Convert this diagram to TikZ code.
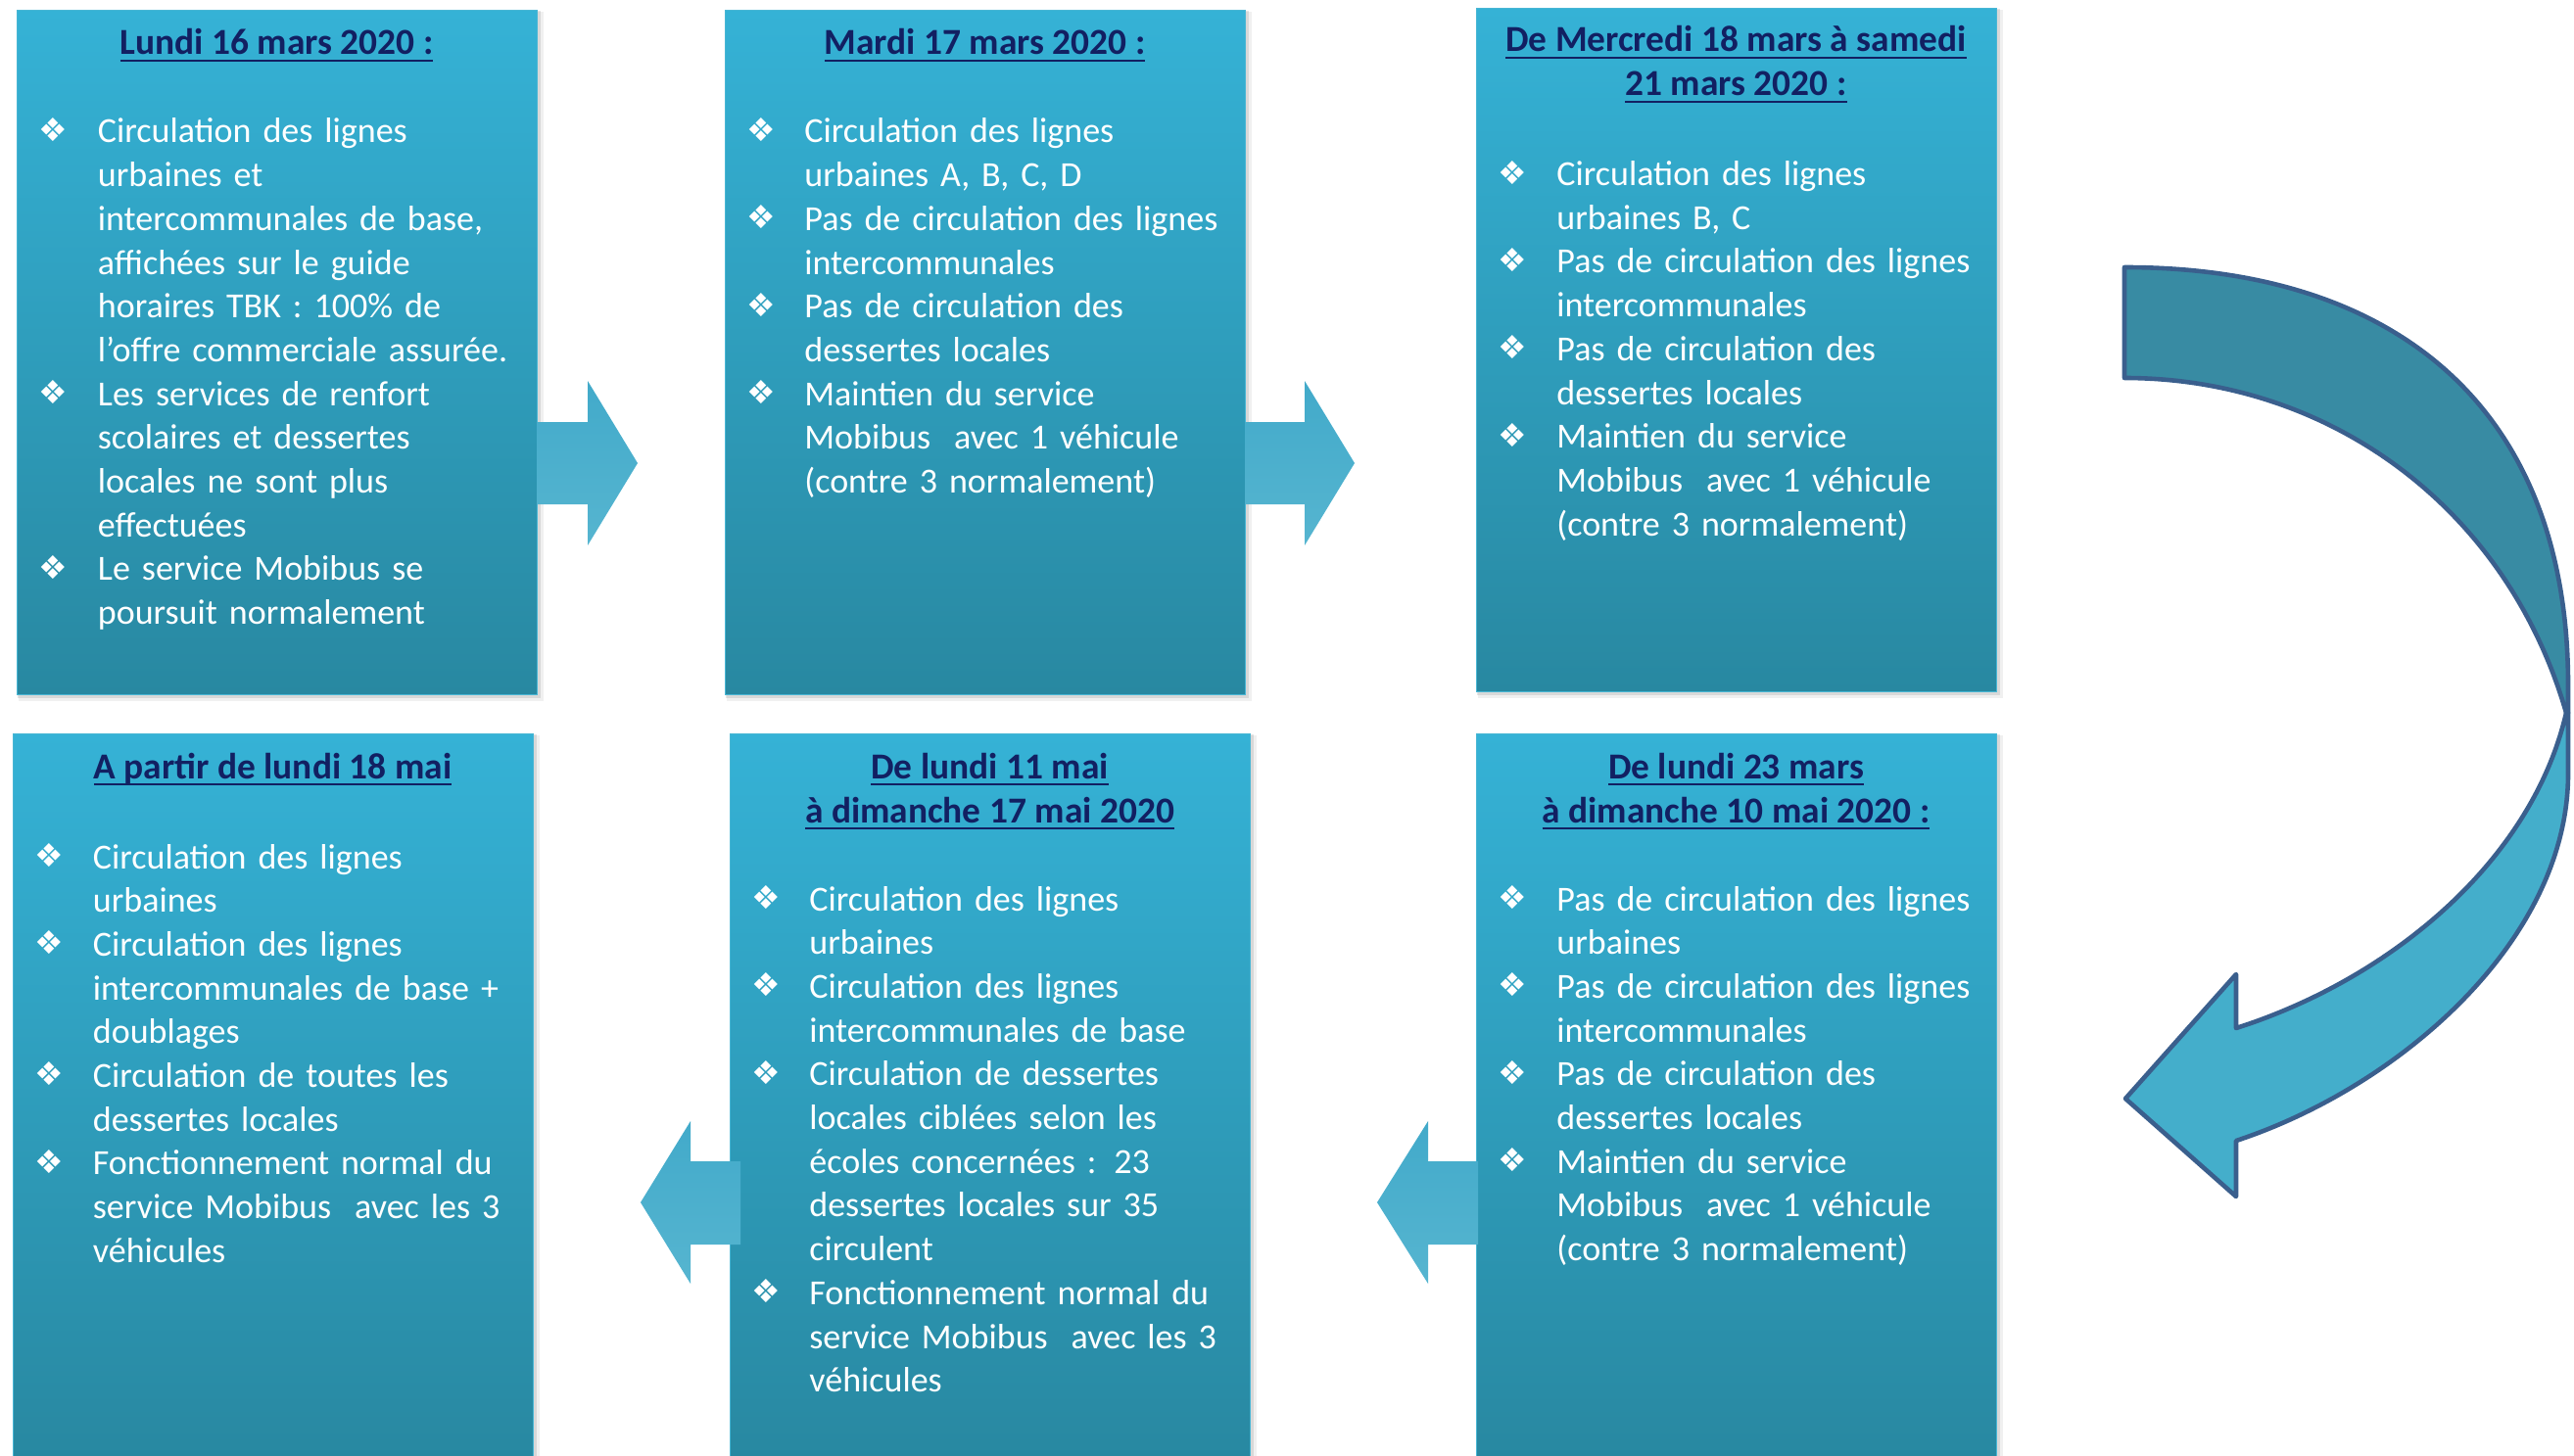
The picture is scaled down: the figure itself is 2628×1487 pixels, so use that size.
\documentclass[tikz,border=0pt]{standalone}
\usepackage{fontspec}
\setmainfont{Carlito}
\newfontfamily\dejavu{DejaVu Sans}
\definecolor{boxtop}{RGB}{53,178,214}
\definecolor{boxbot}{RGB}{40,136,161}
\definecolor{boxedge}{RGB}{72,182,212}
\definecolor{titlecol}{RGB}{18,32,98}
\definecolor{arrtop}{RGB}{66,170,202}
\definecolor{arrbot}{RGB}{86,181,208}
\definecolor{cdark}{RGB}{56,139,163}
\definecolor{clight}{RGB}{68,174,203}
\definecolor{cline}{RGB}{58,95,141}
\newcommand\myul[1]{\setbox0=\hbox{#1}\rlap{\rule[-3.7pt]{\wd0}{1.35pt}}\box0}
\begin{document}
\begin{tikzpicture}[x=0.5pt,y=-0.5pt,
  panel/.style={anchor=north west, inner sep=0, draw=boxedge, line width=0.6pt,
     top color=boxtop, bottom color=boxbot, minimum width=265.5pt},
  txt/.style={anchor=base west, inner sep=0, text=white, align=left, text width=250pt,
     font=\fontsize{18}{22.35}\selectfont},
  ttl/.style={anchor=base, inner sep=0, text=titlecol,
     font=\fontsize{18.7}{22.5}\selectfont\bfseries},
  bul/.style={inner sep=0, text=white, font=\dejavu\fontsize{16.5}{16.5}\selectfont},
  blockarrow/.style={top color=arrtop, bottom color=arrbot, draw=none},
  curvepart/.style={draw=cline, line width=2.3pt, line join=round}]
\useasboundingbox (0,0) rectangle (2628,1487);
% shadows
\foreach \xa/\ya/\xb/\yb in {17/10/548/709, 740/10/1271/709, 1507/8/2038/706,
   13/749/544/1490, 745/749/1276/1490, 1507/749/2038/1490}{
  \fill[black,opacity=0.06] (\xa+2,\ya+2) rectangle (\xb+7,\yb+7);
  \fill[black,opacity=0.10] (\xa+1,\ya+1) rectangle (\xb+4,\yb+4);
}
% panels
\node[panel, minimum height=349.5pt] (P1) at (17,10) {};
\node[panel, minimum height=349.5pt] (P2) at (740,10) {};
\node[panel, minimum height=349pt] (P3) at (1507,8) {};
\node[panel, minimum height=370.5pt] (P4) at (13,749) {};
\node[panel, minimum height=370.5pt] (P5) at (745,749) {};
\node[panel, minimum height=370.5pt] (P6) at (1507,749) {};
% straight arrows
\path[blockarrow] (548,431) -- (600,431) -- (600,389) -- (651,473) -- (600,557) -- (600,515) -- (548,515) -- cycle;
\path[blockarrow] (1271,431) -- (1332,431) -- (1332,389) -- (1383,473) -- (1332,557) -- (1332,515) -- (1271,515) -- cycle;
\path[blockarrow] (756,1186) -- (705,1186) -- (705,1145) -- (654,1228) -- (705,1311) -- (705,1271) -- (756,1271) -- cycle;
\path[blockarrow] (1509,1186) -- (1458,1186) -- (1458,1145) -- (1406,1228) -- (1458,1311) -- (1458,1271) -- (1509,1271) -- cycle;
% curved arrow
\filldraw[curvepart, fill=cdark] (2169,273) .. controls (2450,273) and (2622,420) .. (2622,700)
   -- (2622,728) -- (2620,728) .. controls (2560,520) and (2380,386) .. (2169,386) -- cycle;
\filldraw[curvepart, fill=clight] (2620,728) -- (2622,728) -- (2622,790)
   .. controls (2622,960) and (2450,1110) .. (2283,1165) -- (2283,1222) -- (2170,1122)
   -- (2283,995) -- (2283,1050) .. controls (2440,1000) and (2585,880) .. (2620,728) -- cycle;
% titles
\node[ttl] (T1) at (282.5,56) {\myul{Lundi 16 mars 2020 :}};
\node[ttl] (T2) at (1005.5,56) {\myul{Mardi 17 mars 2020 :}};
\node[ttl] (T3a) at (1772.5,53) {\myul{De Mercredi 18 mars à samedi}};
\node[ttl] (T3b) at (1772.5,98) {\myul{21 mars 2020 :}};
\node[ttl] (T4) at (278.5,795) {\myul{A partir de lundi 18 mai}};
\node[ttl] (T5a) at (1010.5,795) {\myul{De lundi 11 mai}};
\node[ttl] (T5b) at (1010.5,840) {\myul{à dimanche 17 mai 2020}};
\node[ttl] (T6a) at (1772.5,795) {\myul{De lundi 23 mars}};
\node[ttl] (T6b) at (1772.5,840) {\myul{à dimanche 10 mai 2020 :}};
% texts
\node[txt] (X1) at (99.5,146) {Circulation des lignes\\urbaines et\\intercommunales de base,\\affichées sur le guide\\horaires TBK : 100\% de\\l’offre commerciale assurée.\\Les services de renfort\\scolaires et dessertes\\locales ne sont plus\\effectuées\\Le service Mobibus se\\poursuit normalement};
\node[txt] (X2) at (821,146) {Circulation des lignes\\urbaines A, B, C, D\\Pas de circulation des lignes\\intercommunales\\Pas de circulation des\\dessertes locales\\Maintien du service\\Mobibus~ avec 1 véhicule\\(contre 3 normalement)};
\node[txt] (X3) at (1589,189.6) {Circulation des lignes\\urbaines B, C\\Pas de circulation des lignes\\intercommunales\\Pas de circulation des\\dessertes locales\\Maintien du service\\Mobibus~ avec 1 véhicule\\(contre 3 normalement)};
\node[txt] (X4) at (94.5,887) {Circulation des lignes\\urbaines\\Circulation des lignes\\intercommunales de base +\\doublages\\Circulation de toutes les\\dessertes locales\\Fonctionnement normal du\\service Mobibus~ avec les 3\\véhicules};
\node[txt] (X5) at (826,930) {Circulation des lignes\\urbaines\\Circulation des lignes\\intercommunales de base\\Circulation de dessertes\\locales ciblées selon les\\écoles concernées : 23\\dessertes locales sur 35\\circulent\\Fonctionnement normal du\\service Mobibus~ avec les 3\\véhicules};
\node[txt] (X6) at (1589,930) {Pas de circulation des lignes\\urbaines\\Pas de circulation des lignes\\intercommunales\\Pas de circulation des\\dessertes locales\\Maintien du service\\Mobibus~ avec 1 véhicule\\(contre 3 normalement)};
% bullets
\foreach \n/\bx/\by in {a1/54.5/132.5, a2/54.5/400.7, a3/54.5/579.5,
  b1/777.5/132.5, b2/777.5/221.9, b3/777.5/311.3, b4/777.5/400.7,
  c1/1544.5/176.1, c2/1544.5/265.5, c3/1544.5/354.9, c4/1544.5/444.3,
  d1/50.5/873.5, d2/50.5/962.9, d3/50.5/1097, d4/50.5/1186.4,
  e1/782.5/916.5, e2/782.5/1005.9, e3/782.5/1095.3, e4/782.5/1318.8,
  f1/1544.5/916.5, f2/1544.5/1005.9, f3/1544.5/1095.3, f4/1544.5/1184.7}{
  \node[bul] (U\n) at (\bx,\by) {❖};
}
\end{tikzpicture}
\end{document}
